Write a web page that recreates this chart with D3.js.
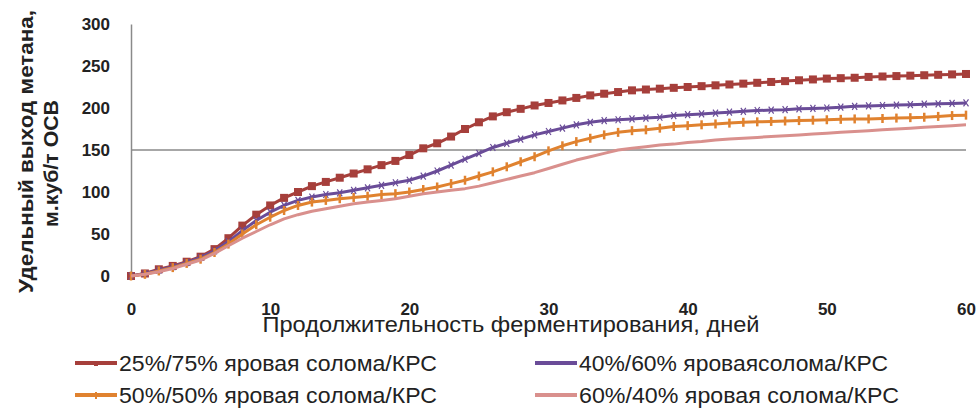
<!DOCTYPE html>
<html><head><meta charset="utf-8">
<script src="https://cdn.jsdelivr.net/npm/d3@7"></script>
<style>
body{margin:0;background:#fff;}
text{font-family:"Liberation Sans",Arial,sans-serif;font-weight:bold;fill:#222;}
</style></head>
<body><svg id="c" width="978" height="408"></svg>
<script>
const days = d3.range(0, 61);
const seriesNames = ["25%/75% яровая солома/КРС","40%/60% яроваясолома/КРС","50%/50% яровая солома/КРС","60%/40% яровая солома/КРС"];
const red = [0,3,8,12,17,23,32,45,60,73,84,93,100,107,112,117,122,127,132,137,144,152,158,166,175,183,190,195,199,203,206,209,212,215,217,219,221,222,223,224,225,226,227,228,229,230,231,232,233,234,235,235.5,236,237,237.5,238,238.5,239,239.5,240,240.5];
const purple = [0,3,7,11,16,22,30,41,54,66,76,84,90,94,97,99,102,105,108,111,114,119,125,132,139,146,153,158,163,168,172,176,180,183,185,186,187,188,189,191,192,193,194,195,196,197,197.5,198,199,199.5,200,201,202,202.5,203,203.5,204,204.5,205,205.5,206];
const orange = [0,2,6,10,15,20,28,38,50,61,70,78,84,88,90,92,93.5,95,97,98,100,103,106,110,114,119,124,130,136,142,149,155,160,164,168,171,173,174,176,178,179,180,181,182,183,183.5,184,184.5,185,185.5,186,186.5,187,187,187.5,188,188.5,189,190,191,191.5];
const pink = [0,2,5,9,14,19,27,36,45,53,61,68,73,77,80,83,86,88,90,92,95,98,100,102,104,107,111,115,119,123,128,133,138,142,146,150,152,154,156,157,159,160,162,163,164,165,166,167,168,169,170,171,172,173,174,175,176,177,178,179,180];
const yTicks = [0,50,100,150,200,250,300];
const xTicks = [0,10,20,30,40,50,60];
const gridValues = [150];
const yTitle = ["Удельный выход метана,","м.куб/т ОСВ"];
const xTitle = "Продолжительность ферментирования, дней";

const colors = ["#A63F3B","#6A4C98","#E0822F","#D9908D"];
const markers = ["square","cross","plus","none"];
const data = [red, purple, orange, pink];

const svg = d3.select("#c");
const x = d3.scaleLinear().domain([0,60]).range([131,966]);
const y = d3.scaleLinear().domain([0,300]).range([276,24]);

// gridline
svg.selectAll(".grid").data(gridValues).enter().append("line")
  .attr("x1", x(0)).attr("x2", x(60)).attr("y1", d=>y(d)).attr("y2", d=>y(d))
  .attr("stroke","#8a8a8a").attr("stroke-width",1.5);

// y axis
const yAxis = svg.append("g").attr("transform",`translate(${x(0)},0)`)
  .call(d3.axisLeft(y).tickValues(yTicks).tickSize(0).tickPadding(21));
yAxis.select(".domain").attr("stroke","#8a8a8a").attr("stroke-width",1.5);
yAxis.selectAll("text").style("font-size","17px").attr("fill","#222");

// x axis (labels only)
const xAxis = svg.append("g").attr("transform",`translate(0,${y(0)})`)
  .call(d3.axisBottom(x).tickValues(xTicks).tickSize(0).tickPadding(27));
xAxis.select(".domain").remove();
xAxis.selectAll("text").style("font-size","17px").attr("fill","#222");

// lines
const line = d3.line().x((d,i)=>x(days[i])).y(d=>y(d)).curve(d3.curveLinear);
data.forEach((s,k)=>{
  svg.append("path").datum(s).attr("d",line).attr("fill","none")
    .attr("stroke",colors[k]).attr("stroke-width",3).attr("stroke-linejoin","round");
  const g = svg.append("g");
  if (markers[k]==="square"){
    g.selectAll("rect").data(s).enter().append("rect")
      .attr("x",(d,i)=>x(days[i])-4).attr("y",d=>y(d)-4).attr("width",8).attr("height",8)
      .attr("fill",colors[k]);
  } else if (markers[k]==="cross"){
    g.selectAll("path").data(s).enter().append("path")
      .attr("d",(d,i)=>{const cx=x(days[i]),cy=y(d);return `M${cx-2.5},${cy-3.5}L${cx+2.5},${cy+3.5}M${cx+2.5},${cy-3.5}L${cx-2.5},${cy+3.5}`;})
      .attr("stroke",colors[k]).attr("stroke-width",1.2);
  } else if (markers[k]==="plus"){
    g.selectAll("path").data(s).enter().append("path")
      .attr("d",(d,i)=>{const cx=x(days[i]),cy=y(d);return `M${cx},${cy-4.5}L${cx},${cy+4.5}`;})
      .attr("stroke",colors[k]).attr("stroke-width",2.5);
  }
});

// x title
svg.append("text").attr("x",511).attr("y",332).attr("text-anchor","middle")
  .attr("textLength",497).attr("lengthAdjust","spacingAndGlyphs")
  .style("font-size","22px").style("font-weight","normal").text(xTitle);
// y title (two lines, rotated)
svg.append("text").attr("transform","translate(33,293) rotate(-90)")
  .attr("textLength",283).attr("lengthAdjust","spacingAndGlyphs")
  .style("font-size","21px").text(yTitle[0]);
svg.append("text").attr("transform","translate(58,227) rotate(-90)")
  .attr("textLength",127).attr("lengthAdjust","spacingAndGlyphs")
  .style("font-size","21px").text(yTitle[1]);

// legend
const legPos = [[75,363],[535,363],[75,395],[535,395]];
const legLen = [318,309,318,320];
seriesNames.forEach((n,k)=>{
  const [lx,ly]=legPos[k];
  svg.append("line").attr("x1",lx).attr("x2",lx+42).attr("y1",ly).attr("y2",ly)
    .attr("stroke",colors[k]).attr("stroke-width",4);
  if (markers[k]==="square"){
    svg.append("rect").attr("x",lx+19).attr("y",ly-1).attr("width",4).attr("height",4).attr("fill",colors[k]);
  } else if (markers[k]==="plus"){
    svg.append("path").attr("d",`M${lx+21},${ly-3}L${lx+21},${ly+4}`).attr("stroke",colors[k]).attr("stroke-width",2);
  }
  svg.append("text").attr("x",lx+44).attr("y",ly).attr("dy","0.36em")
    .attr("textLength",legLen[k]).attr("lengthAdjust","spacingAndGlyphs")
    .style("font-size","22px").style("font-weight","normal").text(n);
});
</script></body></html>
